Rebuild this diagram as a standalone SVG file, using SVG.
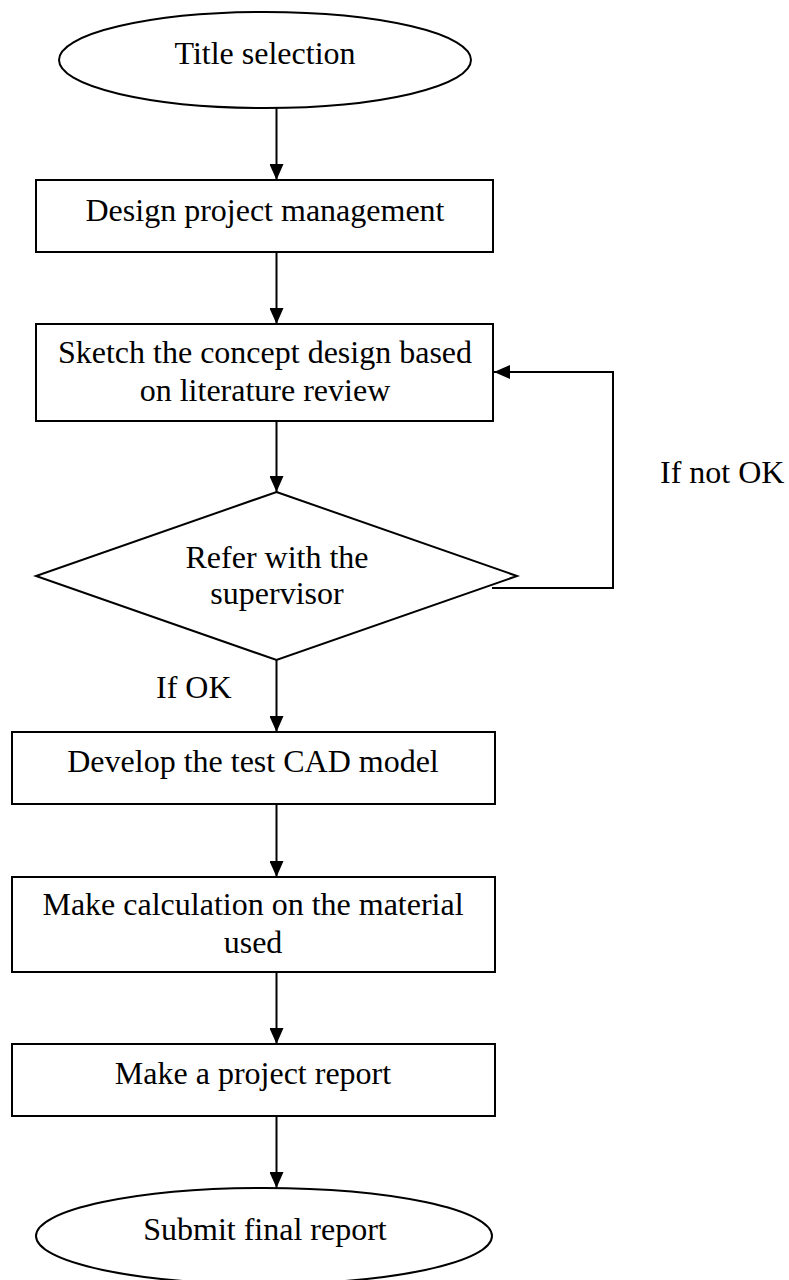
<svg xmlns="http://www.w3.org/2000/svg" width="789" height="1280" viewBox="0 0 789 1280">
<style>
.shape{fill:#fff;stroke:#000;stroke-width:2}
.line{fill:none;stroke:#000;stroke-width:2}
text{font-family:"Liberation Serif","Times New Roman",serif;font-size:32px;fill:#000}
.c{text-anchor:middle}
</style>
<defs>
<marker id="arr" markerWidth="16" markerHeight="14" refX="16" refY="7" orient="auto" markerUnits="userSpaceOnUse">
<path d="M0,0 L16,7 L0,14 Z" fill="#000"/>
</marker>
</defs>
<rect width="789" height="1280" fill="#fff"/>
<g id="connectors">
<line class="line" x1="276.5" y1="108" x2="276.5" y2="180" marker-end="url(#arr)"/>
<line class="line" x1="276.5" y1="252" x2="276.5" y2="324" marker-end="url(#arr)"/>
<line class="line" x1="276.5" y1="421" x2="276.5" y2="492" marker-end="url(#arr)"/>
<line class="line" x1="276.5" y1="660" x2="276.5" y2="732" marker-end="url(#arr)"/>
<line class="line" x1="276.5" y1="804" x2="276.5" y2="877" marker-end="url(#arr)"/>
<line class="line" x1="276.5" y1="972" x2="276.5" y2="1044" marker-end="url(#arr)"/>
<line class="line" x1="276.5" y1="1116" x2="276.5" y2="1188" marker-end="url(#arr)"/>
<polyline class="line" points="492,588 613,588 613,372 494,372" marker-end="url(#arr)"/>
<text x="660" y="483">If not OK</text>
<text x="156" y="698">If OK</text>
</g>
<g id="n1">
<ellipse class="shape" cx="265" cy="60" rx="206" ry="48"/>
<text class="c" x="265" y="64">Title selection</text>
</g>
<g id="n2">
<rect class="shape" x="36" y="180" width="457" height="72"/>
<text class="c" x="265" y="221">Design project management</text>
</g>
<g id="n3">
<rect class="shape" x="36" y="324" width="457" height="97"/>
<text class="c" x="265" y="363">Sketch the concept design based</text>
<text class="c" x="265" y="401">on literature review</text>
</g>
<g id="n4">
<polygon class="shape" points="276.5,492 517,576 276.5,660 36,576"/>
<text class="c" x="277" y="568">Refer with the</text>
<text class="c" x="277" y="604">supervisor</text>
</g>
<g id="n5">
<rect class="shape" x="12" y="732" width="483" height="72"/>
<text class="c" x="253" y="772">Develop the test CAD model</text>
</g>
<g id="n6">
<rect class="shape" x="12" y="877" width="483" height="95"/>
<text class="c" x="253" y="915">Make calculation on the material</text>
<text class="c" x="253" y="953">used</text>
</g>
<g id="n7">
<rect class="shape" x="12" y="1044" width="483" height="72"/>
<text class="c" x="253" y="1084">Make a project report</text>
</g>
<g id="n8">
<ellipse class="shape" cx="264" cy="1236" rx="228" ry="48"/>
<text class="c" x="265" y="1240">Submit final report</text>
</g>
</svg>
